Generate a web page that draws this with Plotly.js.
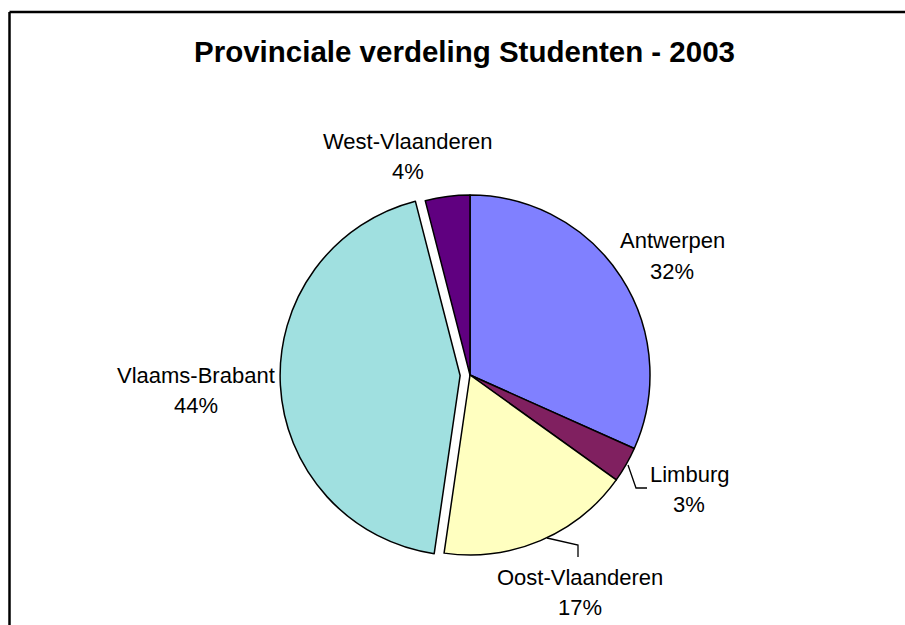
<!DOCTYPE html>
<html>
<head>
<meta charset="utf-8">
<script src="https://cdn.plot.ly/plotly-3.0.1.min.js"></script>
<style>html,body{margin:0;padding:0;background:#fff;}#chart{width:905px;height:625px;}</style>
</head>
<body>
<div id="chart"></div>
<script>
// ---- data ----
var provinces = ["Antwerpen", "Limburg", "Oost-Vlaanderen", "Vlaams-Brabant", "West-Vlaanderen"];
var shares = [31.7, 3.2, 17.4, 43.7, 4.0];
var sliceColors = ["#8080FF", "#802060", "#FFFFC0", "#A0E0E0", "#600080"];
var pulls = [0, 0, 0, 0.055, 0];
var chartTitle = "Provinciale verdeling Studenten - 2003";

// ---- layout helpers (pixel -> paper) ----
var W = 905, H = 625;
function px(x){ return x / W; }
function py(y){ return 1 - y / H; }

var total = shares.reduce(function(a,b){return a+b;}, 0);
var pctText = shares.map(function(v){ return Math.round(v / total * 100) + "%"; });

// label placement (pixel centres of the two text lines)
var labelPos = {
  "Antwerpen":       {x: 672, y1: 241, y2: 271},
  "Limburg":         {x: 689, y1: 474, y2: 504},
  "Oost-Vlaanderen": {x: 580, y1: 577, y2: 607},
  "Vlaams-Brabant":  {x: 196, y1: 375, y2: 405},
  "West-Vlaanderen": {x: 408, y1: 141, y2: 171}
};

var labelFont = {family: "Liberation Sans, Arial, sans-serif", size: 22, color: "#000"};
var annotations = [];
provinces.forEach(function(p, i){
  var pos = labelPos[p];
  annotations.push({xref:"paper", yref:"paper", x: px(pos.x), y: py(pos.y1), text: p,
    showarrow:false, xanchor:"center", yanchor:"middle", font: labelFont});
  annotations.push({xref:"paper", yref:"paper", x: px(pos.x), y: py(pos.y2), text: pctText[i],
    showarrow:false, xanchor:"center", yanchor:"middle", font: labelFont});
});

function pathPx(points){
  return points.map(function(p, i){ return (i ? "L" : "M") + px(p[0]) + "," + py(p[1]); }).join(" ");
}

var shapes = [
  // chart frame (top and left edges visible)
  {type:"line", xref:"paper", yref:"paper", x0:px(9.5), y0:py(12), x1:px(905), y1:py(12), line:{color:"#000", width:2.5}},
  {type:"line", xref:"paper", yref:"paper", x0:px(9.5), y0:py(12), x1:px(9.5), y1:py(625), line:{color:"#000", width:2.5}},
  // leader lines
  {type:"path", xref:"paper", yref:"paper", path: pathPx([[628,465],[636,488],[647,488]]), line:{color:"#000", width:1.3}},
  {type:"path", xref:"paper", yref:"paper", path: pathPx([[547,538],[578,545],[578,557]]), line:{color:"#000", width:1.3}}
];

var cx = 470, cy = 375, r = 180;
var half = r * (1 + Math.max.apply(null, pulls));

var trace = {
  type: "pie",
  labels: provinces,
  values: shares,
  sort: false,
  direction: "clockwise",
  rotation: 0,
  pull: pulls,
  textinfo: "none",
  hoverinfo: "label+percent",
  marker: {colors: sliceColors, line: {color: "#000", width: 1.5}},
  domain: {x: [px(cx - half), px(cx + half)], y: [py(cy + half), py(cy - half)]},
  showlegend: false
};

var layout = {
  width: W, height: H,
  margin: {l:0, r:0, t:0, b:0},
  paper_bgcolor: "#fff",
  title: {text: "<b>" + chartTitle + "</b>", x: px(464.5), xanchor: "center", y: py(52), yanchor: "middle",
          font: {family: "Liberation Sans, Arial, sans-serif", size: 29.5, color: "#000"}},
  annotations: annotations,
  shapes: shapes,
  showlegend: false
};

Plotly.newPlot("chart", [trace], layout, {displayModeBar: false, staticPlot: true});
</script>
</body>
</html>
